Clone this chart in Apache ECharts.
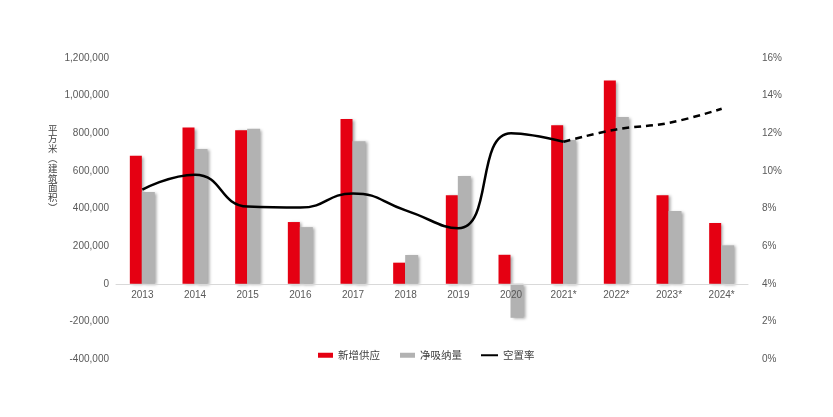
<!DOCTYPE html>
<html>
<head>
<meta charset="utf-8">
<script src="https://cdn.jsdelivr.net/npm/echarts@6/dist/echarts.min.js"></script>
<style>html,body{margin:0;padding:0;background:#fff}#c{width:833px;height:417px}</style>
</head>
<body>
<div id="c"></div>
<script>
var categories = ['2013','2014','2015','2016','2017','2018','2019','2020','2021*','2022*','2023*','2024*'];
var supply = [680000, 830000, 816000, 328000, 876000, 112000, 470000, 154000, 842000, 1080000, 470000, 323000];
var absorption = [488000, 716000, 824000, 301000, 757000, 153000, 573000, -181000, 764000, 887000, 387000, 204000];
var vacancy = [9.0, 9.8, 8.1, 8.05, 8.8, 7.9, 6.95, 12.0, 11.55, null, null, null];
var vacancyForecast = [null, null, null, null, null, null, null, null, 11.55, 12.2, 12.55, 13.3];
var leftTicks = {min: -400000, max: 1200000, interval: 200000};
var rightTicks = {min: 0, max: 16, interval: 2};

var chart = echarts.init(document.getElementById('c'));
var font = 'Liberation Sans, Noto Sans CJK SC, sans-serif';
var shadow = {shadowColor: 'rgba(0,0,0,0.35)', shadowBlur: 3, shadowOffsetX: 2, shadowOffsetY: 1};
var legendText = {color: '#404040', fontSize: 10.5, fontFamily: 'Noto Sans CJK SC'};
chart.setOption({
  animation: false,
  textStyle: {fontFamily: font},
  grid: {left: 116, right: 85, top: 58, bottom: 58},
  legend: [{
    left: 313, top: 345, itemWidth: 15, itemHeight: 5, itemGap: 20,
    textStyle: legendText,
    data: [{name: '新增供应', icon: 'rect'}, {name: '净吸纳量', icon: 'rect'}]
  }, {
    left: 476, top: 345, itemWidth: 17, itemHeight: 2,
    textStyle: legendText,
    data: [{name: '空置率', icon: 'rect'}]
  }],
  graphic: [{
    type: 'text', left: 48, top: 124,
    style: {text: '平\n方\n米\n︵\n建\n筑\n面\n积\n︶', fill: '#404040', font: '9.5px Noto Sans CJK SC', lineHeight: 9.8}
  }],
  xAxis: {
    type: 'category', data: categories, z: 10,
    axisLine: {onZero: true, onZeroAxisIndex: 0, lineStyle: {color: '#d9d9d9'}},
    axisTick: {show: false},
    axisLabel: {color: '#595959', fontSize: 10, margin: -69}
  },
  yAxis: [{
    type: 'value', min: leftTicks.min, max: leftTicks.max, interval: leftTicks.interval,
    splitLine: {show: false}, axisLine: {show: false}, axisTick: {show: false},
    axisLabel: {color: '#595959', fontSize: 10, margin: 7,
      formatter: function (v) { return v.toLocaleString('en-US'); }}
  }, {
    type: 'value', min: rightTicks.min, max: rightTicks.max, interval: rightTicks.interval,
    splitLine: {show: false}, axisLine: {show: false}, axisTick: {show: false},
    axisLabel: {color: '#595959', fontSize: 10, margin: 14, formatter: '{value}%'}
  }],
  series: [{
    name: '新增供应', type: 'bar', data: supply, barWidth: 12, barGap: '0%',
    itemStyle: Object.assign({color: '#e50012'}, shadow)
  }, {
    name: '净吸纳量', type: 'bar', data: absorption, barWidth: 13,
    itemStyle: Object.assign({color: '#b2b2b2'}, shadow)
  }, {
    name: '空置率', type: 'line', yAxisIndex: 1, data: vacancy, smooth: 0.5,
    symbol: 'none', lineStyle: {color: '#000', width: 2.5}, itemStyle: {color: '#000'}
  }, {
    name: '空置率预测', type: 'line', yAxisIndex: 1, data: vacancyForecast, smooth: 0.4,
    symbol: 'none', lineStyle: {color: '#000', width: 2.5, type: [7, 5]}, itemStyle: {color: '#000'}
  }]
});
</script>
</body>
</html>
